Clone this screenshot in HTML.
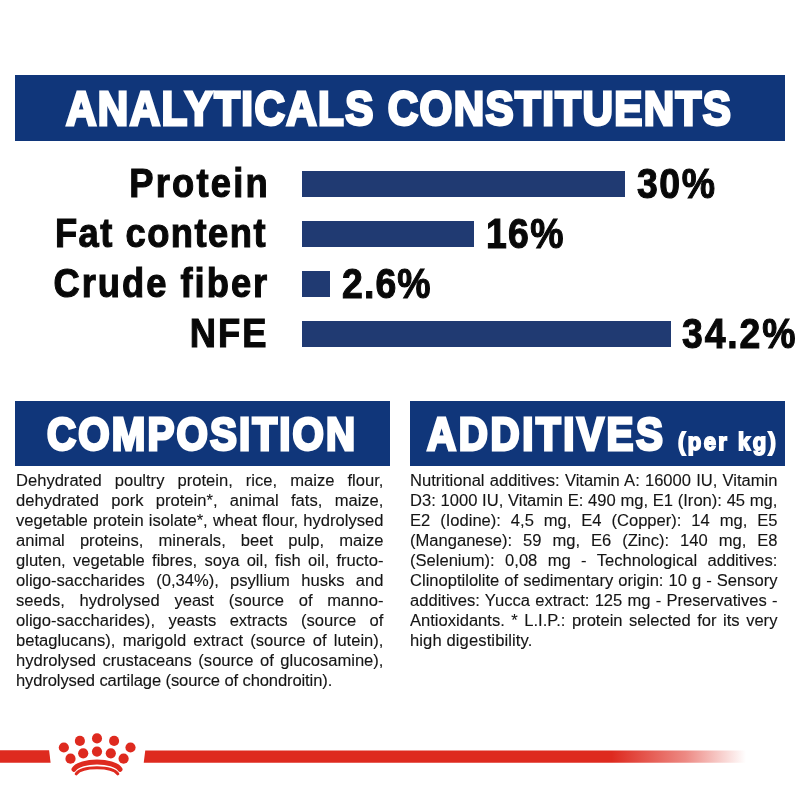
<!DOCTYPE html>
<html><head><meta charset="utf-8">
<style>
*{margin:0;padding:0;box-sizing:border-box}
html,body{width:800px;height:800px;background:#fff;overflow:hidden}
body{position:relative;will-change:transform;font-family:"Liberation Sans",sans-serif}
.ban{position:absolute;background:#10367a}
.bt{position:absolute;color:#fff;-webkit-text-stroke:1.8px #fff;font-weight:bold;white-space:nowrap;transform-origin:0 0;line-height:1}
.lab{position:absolute;-webkit-text-stroke:1.1px #080808;font-weight:bold;color:#080808;white-space:nowrap;line-height:1;transform-origin:100% 0}
.val{position:absolute;-webkit-text-stroke:1.1px #080808;font-weight:bold;color:#080808;white-space:nowrap;line-height:1;transform-origin:0 0}
.bar{position:absolute;background:#203a72;height:26px}
.txt{position:absolute;width:355px;font-size:16px;line-height:20px;color:#151515;-webkit-text-stroke:0.12px #151515;transform:scaleX(1.035);transform-origin:0 0}
.txt div{text-align:justify;text-align-last:justify;white-space:nowrap;height:20px}
.txt div.l{text-align:left;text-align-last:left}
</style></head><body>
<div class="ban" style="left:15px;top:75px;width:770px;height:65.5px"></div>
<div class="bt" id="h1" style="left:66px;top:84px;font-size:49px;transform:scaleX(0.86);letter-spacing:1.61px;-webkit-text-stroke-width:3px">ANALYTICALS CONSTITUENTS</div>

<div class="lab" id="l1" style="right:530.25px;top:162.9px;font-size:41.3px;transform:scaleX(0.88);letter-spacing:2.54px">Protein</div>
<div class="lab" id="l2" style="right:533px;top:213px;font-size:41.3px;transform:scaleX(0.88);letter-spacing:1.68px">Fat content</div>
<div class="lab" id="l3" style="right:531px;top:263px;font-size:41.3px;transform:scaleX(0.88);letter-spacing:2.27px">Crude fiber</div>
<div class="lab" id="l4" style="right:531.5px;top:312.6px;font-size:41.3px;transform:scaleX(0.88);letter-spacing:2.33px">NFE</div>

<div class="bar" style="left:301.5px;top:171.25px;width:323.5px"></div>
<div class="bar" style="left:301.5px;top:221.25px;width:172.5px"></div>
<div class="bar" style="left:301.5px;top:271.25px;width:28.5px"></div>
<div class="bar" style="left:301.5px;top:321.25px;width:369px"></div>

<div class="val" id="v1" style="left:637px;top:162.6px;font-size:42.5px;transform:scaleX(0.88);letter-spacing:1.75px">30%</div>
<div class="val" id="v2" style="left:486px;top:212.6px;font-size:42.5px;transform:scaleX(0.88);letter-spacing:1.5px">16%</div>
<div class="val" id="v3" style="left:342px;top:262.6px;font-size:42.5px;transform:scaleX(0.88);letter-spacing:1.28px">2.6%</div>
<div class="val" id="v4" style="left:682px;top:312.6px;font-size:42.5px;transform:scaleX(0.88);letter-spacing:2.09px">34.2%</div>

<div class="ban" style="left:15px;top:401px;width:375px;height:64.5px"></div>
<div class="bt" id="h2" style="left:46.5px;top:412px;font-size:45.8px;transform:scaleX(0.88);letter-spacing:2.45px;-webkit-text-stroke-width:3px">COMPOSITION</div>
<div class="ban" style="left:410px;top:401px;width:375px;height:64.5px"></div>
<div class="bt" id="h3" style="left:426.5px;top:412px;font-size:45.8px;transform:scaleX(0.88);letter-spacing:2.98px;-webkit-text-stroke-width:3px">ADDITIVES</div>
<div class="bt" id="h4" style="left:678px;top:429.5px;font-size:24.5px;transform:scaleX(0.9);letter-spacing:2.7px;-webkit-text-stroke-width:1.8px">(per kg)</div>

<div class="txt" style="left:16px;top:471px">
<div>Dehydrated poultry protein, rice, maize flour,</div>
<div>dehydrated pork protein*, animal fats, maize,</div>
<div>vegetable protein isolate*, wheat flour, hydrolysed</div>
<div>animal proteins, minerals, beet pulp, maize</div>
<div>gluten, vegetable fibres, soya oil, fish oil, fructo-</div>
<div>oligo-saccharides (0,34%), psyllium husks and</div>
<div>seeds, hydrolysed yeast (source of manno-</div>
<div>oligo-saccharides), yeasts extracts (source of</div>
<div>betaglucans), marigold extract (source of lutein),</div>
<div>hydrolysed crustaceans (source of glucosamine),</div>
<div class="l" id="t1" style="letter-spacing:-0.11px">hydrolysed cartilage (source of chondroitin).</div>
</div>

<div class="txt" style="left:410px;top:471px">
<div>Nutritional additives: Vitamin A: 16000 IU, Vitamin</div>
<div>D3: 1000 IU, Vitamin E: 490 mg, E1 (Iron): 45 mg,</div>
<div>E2 (Iodine): 4,5 mg, E4 (Copper): 14 mg, E5</div>
<div>(Manganese): 59 mg, E6 (Zinc): 140 mg, E8</div>
<div>(Selenium): 0,08 mg - Technological additives:</div>
<div>Clinoptilolite of sedimentary origin: 10 g - Sensory</div>
<div>additives: Yucca extract: 125 mg - Preservatives -</div>
<div>Antioxidants. * L.I.P.: protein selected for its very</div>
<div class="l" id="t2" style="letter-spacing:0.11px">high digestibility.</div>
</div>

<svg style="position:absolute;left:0;top:720px" width="800" height="80" viewBox="0 720 800 80">
<defs><linearGradient id="fade" gradientUnits="userSpaceOnUse" x1="143" y1="0" x2="746" y2="0">
<stop offset="0" stop-color="#de2a1f" stop-opacity="1"/><stop offset="0.777" stop-color="#de2a1f" stop-opacity="1"/><stop offset="0.9" stop-color="#de2a1f" stop-opacity="0.55"/><stop offset="1" stop-color="#de2a1f" stop-opacity="0"/></linearGradient></defs>
<polygon points="0,750.3 49.1,750.3 50.6,762.75 0,762.75" fill="#de2a1f"/>
<polygon points="145.25,750.4 746,750.4 746,762.75 143.75,762.75" fill="url(#fade)"/>
<g fill="#de2a1f">
<circle cx="63.85" cy="747.5" r="5.1"/>
<circle cx="79.9" cy="740.9" r="5.05"/>
<circle cx="97" cy="738.4" r="5.05"/>
<circle cx="114.1" cy="740.9" r="5.05"/>
<circle cx="130.5" cy="747.5" r="5.1"/>
<circle cx="70.5" cy="758.7" r="5.1"/>
<circle cx="83.2" cy="753.3" r="5.1"/>
<circle cx="97" cy="751.6" r="5.1"/>
<circle cx="110.8" cy="753.3" r="5.1"/>
<circle cx="123.6" cy="758.7" r="5.1"/>
</g>
<g fill="none" stroke="#de2a1f" stroke-linecap="round">
<path d="M74,769.3 C80,759.6 114,759.6 120,769.3" stroke-width="5"/>
<path d="M76.2,773.8 C82,765.6 112,765.6 117.8,773.8" stroke-width="3"/>
</g>
</svg>
</body></html>
